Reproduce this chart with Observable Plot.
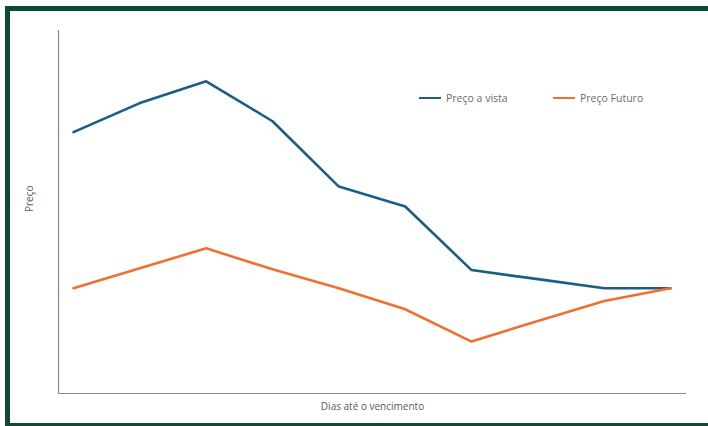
<!DOCTYPE html>
<html>
<head>
<meta charset="utf-8">
<script src="https://cdn.jsdelivr.net/npm/d3@7"></script>
<script src="https://cdn.jsdelivr.net/npm/@observablehq/plot@0.6"></script>
<style>
  html, body { margin: 0; padding: 0; background: #fff; }
  #wrap { position: relative; width: 708px; height: 426px; overflow: hidden; font-family: "Open Sans", "Liberation Sans", sans-serif; }
  #frame { position: absolute; left: 5px; top: 6px; width: 720px; height: 412px; border: 5px solid #0c4a33; }
  #chart { position: absolute; left: 0; top: 0; }
  .leg { position: absolute; top: 91px; font-size: 10.5px; color: #6b6b6b; white-space: nowrap; }
  .sw { display: inline-block; width: 22px; height: 2.5px; vertical-align: middle; margin-right: 5px; position: relative; top: -1px; }
</style>
</head>
<body>
<div id="wrap">
  <div id="frame"></div>
  <div id="chart"></div>
  <div class="leg" style="left:419px"><span class="sw" style="background:#1b5e84"></span>Preço a vista</div>
  <div class="leg" style="left:553px"><span class="sw" style="background:#ef7030"></span>Preço Futuro</div>
</div>
<script>
const days = [1, 2, 3, 4, 5, 6, 7, 8, 9, 10];
const precoVista = [72, 80, 86, 75, 57, 51.5, 34, 31.5, 29, 29];
const precoFuturo = [29, 34.5, 40, 34.2, 29, 23.2, 14.3, 20, 25.5, 29];
const seriesNames = ["Preço a vista", "Preço Futuro"];
const colors = ["#1b5e84", "#ef7030"];

const data = [];
days.forEach((d, i) => {
  data.push({ dia: d, preco: precoVista[i], serie: seriesNames[0] });
  data.push({ dia: d, preco: precoFuturo[i], serie: seriesNames[1] });
});

const xDomain = [0.774, 10.24];

const plot = Plot.plot({
  width: 708,
  height: 426,
  marginLeft: 58,
  marginRight: 22,
  marginTop: 30,
  marginBottom: 33,
  style: { fontFamily: "'Open Sans', 'Liberation Sans', sans-serif", background: "transparent" },
  x: { domain: xDomain, axis: null },
  y: { domain: [0, 100], axis: null },
  color: { domain: seriesNames, range: colors },
  marks: [
    Plot.ruleX([xDomain[0]], { stroke: "#8a8a8a", strokeWidth: 1.2 }),
    Plot.ruleY([0], { stroke: "#8a8a8a", strokeWidth: 1.2 }),
    Plot.line(data, { x: "dia", y: "preco", z: "serie", stroke: "serie", strokeWidth: 2.6, strokeLinejoin: "miter" }),
    Plot.text(["Dias até o vencimento"], { frameAnchor: "bottom", dy: 16, fontSize: 10, fill: "#5a5a5a" }),
    Plot.text(["Preço"], { frameAnchor: "left", dx: -29, rotate: -90, fontSize: 10, fill: "#5a5a5a" })
  ]
});
document.getElementById("chart").appendChild(plot);
</script>
</body>
</html>
